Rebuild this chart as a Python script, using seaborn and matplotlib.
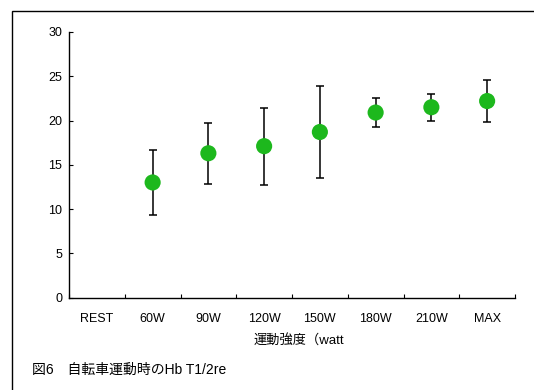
import numpy as np
import pandas as pd
import matplotlib
matplotlib.use("Agg")
import matplotlib.pyplot as plt
from matplotlib.patches import Rectangle
import seaborn as sns

# Exercise intensity levels and Hb T1/2 (mean, SD); no value at rest
categories = ["REST", "60W", "90W", "120W", "150W", "180W", "210W", "MAX"]
means = [np.nan, 13.0, 16.3, 17.1, 18.7, 20.9, 21.5, 22.2]
sds = [np.nan, 3.7, 3.45, 4.35, 5.2, 1.65, 1.55, 2.35]
y_ticks = [0, 5, 10, 15, 20, 25, 30]

sns.set_style("white")
plt.rcParams["font.family"] = ["Liberation Sans", "Noto Sans CJK JP", "DejaVu Sans"]
plt.rcParams["text.color"] = "black"
plt.rcParams["xtick.color"] = "black"
plt.rcParams["ytick.color"] = "black"
plt.rcParams["axes.labelcolor"] = "black"

df = pd.DataFrame({"pos": np.arange(len(categories)), "mean": means, "sd": sds})
df_valid = df.dropna()

W, H = 534, 390
fig = plt.figure(figsize=(W / 100, H / 100), dpi=100)
ax = fig.add_axes([69 / W, 1 - 297.5 / H, (515 - 69) / W, (297.5 - 32) / H])

# outer frame of the figure panel
fig.patches.append(Rectangle((12 / W, -0.05), 1.2, 1 - 11 / H + 0.05,
                             transform=fig.transFigure, fill=False,
                             edgecolor="black", linewidth=1.0, zorder=0))

ax.errorbar(df_valid["pos"], df_valid["mean"], yerr=df_valid["sd"], fmt="none",
            ecolor="black", elinewidth=1.1, capsize=3.2, capthick=1.1, zorder=2)
sns.scatterplot(data=df_valid, x="pos", y="mean", ax=ax, color="#1db81d",
                s=135, edgecolor="none", zorder=3, legend=False)

ax.set_xlim(-0.5, len(categories) - 0.5)
ax.set_ylim(0, 30)
ax.set_yticks(y_ticks)
ax.set_yticklabels([str(t) for t in y_ticks], fontsize=9)

# category boundaries carry the tick marks, labels sit at the centres
ax.set_xticks(np.arange(-0.5, len(categories), 1.0))
ax.set_xticklabels([])
ax.set_xticks(np.arange(len(categories)), minor=True)
ax.set_xticklabels(categories, minor=True, fontsize=9)
ax.tick_params(axis="x", which="major", bottom=True, direction="in", length=3,
               width=0.8, color="black")
ax.tick_params(axis="x", which="minor", bottom=True, length=0, pad=11)
ax.tick_params(axis="y", left=True, direction="in", length=3, width=0.8,
               color="black", pad=5)

for side in ["top", "right"]:
    ax.spines[side].set_visible(False)
for side in ["left", "bottom"]:
    ax.spines[side].set_color("black")
    ax.spines[side].set_linewidth(1.0)

ax.set_xlabel("運動強度（watt", fontsize=9.5, ha="left", va="center")
ax.xaxis.set_label_coords((254 - 69) / (515 - 69), (297.5 - 340) / (297.5 - 32))
ax.set_ylabel("")

fig.text(32 / W, 1 - 370 / H, "図6　自転車運動時のHb T1/2re", fontsize=10,
         va="center", ha="left")

fig.savefig("out.png", dpi=100)
